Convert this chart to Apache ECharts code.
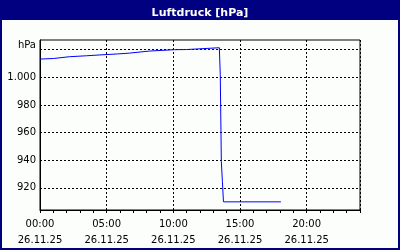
<!DOCTYPE html>
<html><head><meta charset="utf-8">
<script src="https://cdn.jsdelivr.net/npm/echarts@6/dist/echarts.min.js"></script>
<style>html,body{margin:0;padding:0;background:#fcfefc}#c{width:400px;height:250px}</style>
</head><body><div id="c"></div>
<script>
const titleText = 'Luftdruck [hPa]';
const unitName = 'hPa';
const dateLabel = '26.11.25';
const hours = [0, 1.0, 2.2, 3.5, 4.5, 5.8, 6.7, 8.2, 10.1, 11.0, 11.07, 13.45, 13.52, 13.6, 13.68, 13.76, 18.07];
const pressure = [1013.2, 1013.6, 1014.9, 1015.6, 1016.2, 1016.9, 1017.5, 1019.0, 1020.0, 1020.1, 1021.4, 1021.4, 1002.0, 939.0, 924.6, 909.9, 909.9];
const yGrid = [920, 940, 960, 980, 1000, 1020];
const yLabels = [920, 940, 960, 980, 1000];

const seriesData = hours.map((h, i) => [h, pressure[i]]);
const chart = echarts.init(document.getElementById('c'), null, {renderer: 'canvas'});
const font = 'Tahoma, "DejaVu Sans", Verdana, sans-serif';
const dash = {color: '#000', type: [2, 2], width: 1};
chart.setOption({
  backgroundColor: '#fcfefc',
  animation: false,
  title: {text: titleText, left: 'center', top: 3,
    textStyle: {color: '#ffffff', fontSize: 11, fontWeight: 'bold', fontFamily: font}},
  graphic: [
    {type: 'rect', shape: {x: 0, y: 0, width: 400, height: 20}, style: {fill: '#000080'}, z: -1},
    {type: 'rect', shape: {x: 1, y: 1, width: 398, height: 248}, style: {fill: 'none', stroke: '#000080', lineWidth: 2}, z: -1}
  ],
  grid: {left: 40, top: 40, right: 40, bottom: 40, show: true, borderColor: '#000', borderWidth: 1, backgroundColor: 'transparent'},
  xAxis: [{
    type: 'value', min: 0, max: 24, interval: 5,
    axisLine: {show: true, lineStyle: {color: '#000', width: 1}},
    axisTick: {show: false},
    splitLine: {show: true, lineStyle: dash},
    axisLabel: {color: '#000', fontSize: 10, fontFamily: font, margin: 6, lineHeight: 16,
      formatter: v => (v % 5 === 0 && v < 24) ? (String(v).padStart(2, '0') + ':00\n' + dateLabel) : ''}
  }, {
    type: 'value', min: 0, max: 24, interval: 1, position: 'bottom',
    axisLine: {show: false}, splitLine: {show: false}, axisLabel: {show: false},
    axisTick: {show: true, length: 3, lineStyle: {color: '#000'}}
  }],
  yAxis: {
    type: 'value', min: 904, max: 1027,
    name: unitName, nameLocation: 'end', nameGap: -5,
    nameTextStyle: {color: '#000', fontSize: 10, fontFamily: font, align: 'right', verticalAlign: 'middle', padding: [0, 4, 0, 0]},
    axisLine: {show: true, lineStyle: {color: '#000'}},
    axisTick: {show: false},
    splitLine: {show: false},
    axisLabel: {show: false}
  },
  series: [{type: 'line', data: seriesData, xAxisIndex: 0, symbol: 'none',
    lineStyle: {color: '#0000ff', width: 1}, z: 3,
    markLine: {silent: true, symbol: 'none', animation: false, z: 1,
      lineStyle: dash,
      label: {show: true, position: 'start', distance: 4, color: '#000', fontSize: 10, fontFamily: font,
        formatter: p => yLabels.includes(p.value) ? p.value.toLocaleString('de-DE') : ''},
      data: yGrid.map(v => ({yAxis: v}))}}]
});
</script></body></html>
